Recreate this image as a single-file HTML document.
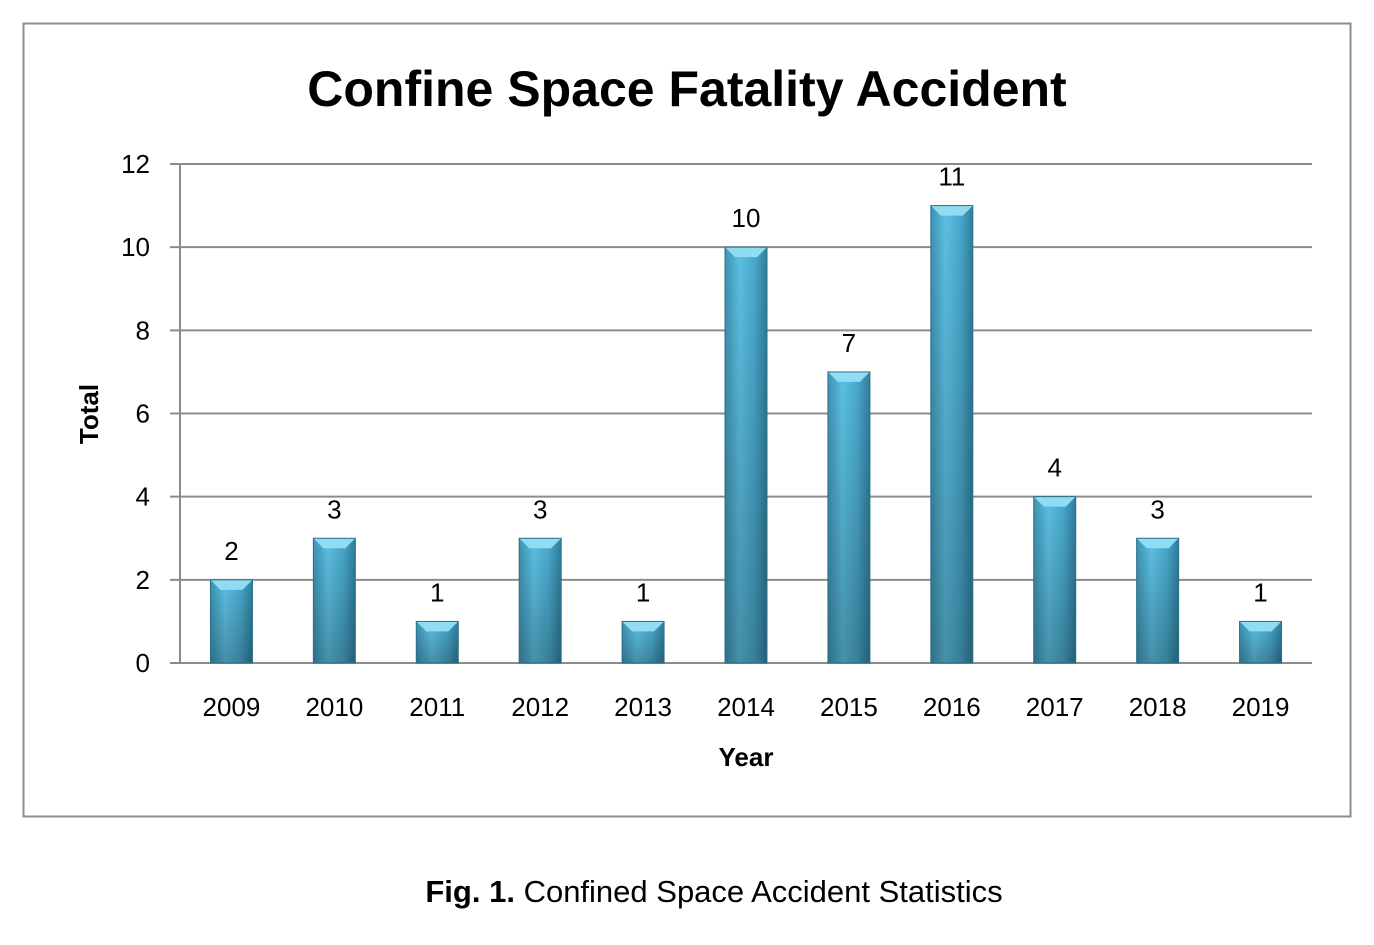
<!DOCTYPE html>
<html><head><meta charset="utf-8"><style>
body{margin:0;background:#fff;width:1374px;height:940px;overflow:hidden;font-family:"Liberation Sans",sans-serif}
</style></head><body>
<svg width="1374" height="940">
<defs>
<linearGradient id="bg" x1="0" x2="1" y1="0" y2="0">
<stop offset="0" stop-color="#3e93b3"/><stop offset="0.35" stop-color="#5cc0e2"/><stop offset="0.7" stop-color="#4aa9cc"/><stop offset="1" stop-color="#2f7e9c"/></linearGradient>
<linearGradient id="bot" x1="0" x2="0" y1="0" y2="1"><stop offset="0" stop-color="#000" stop-opacity="0"/><stop offset="1" stop-color="#000" stop-opacity="0.25"/></linearGradient>
</defs>
<rect x="23.5" y="23.5" width="1327" height="793" fill="#fff" stroke="#8c8c8c" stroke-width="2"/>
<text x="687" y="106" text-anchor="middle" font-size="50" font-weight="bold" fill="#000">Confine Space Fatality Accident</text>
<g id="grid"></g><g id="bars"></g>
<text transform="translate(98,414) rotate(-90)" text-anchor="middle" font-size="26" font-weight="bold">Total</text>
<text x="746" y="766" text-anchor="middle" font-size="26" font-weight="bold">Year</text>
<text x="714" y="902" text-anchor="middle" font-size="31"><tspan font-weight="bold">Fig. 1.</tspan> Confined Space Accident Statistics</text>
</svg>
<script>
const categories=["2009","2010","2011","2012","2013","2014","2015","2016","2017","2018","2019"];
const values=[2,3,1,3,1,10,7,11,4,3,1];
const yTicks=[0,2,4,6,8,10,12];
const NS="http://www.w3.org/2000/svg";
const x0=180,x1=1312,y0=663,yTop=164,yMax=12;
const bw=(x1-x0)/categories.length;
const y=v=>y0-(y0-yTop)*v/yMax;
const xc=i=>x0+bw*(i+0.5);
function mk(t,a,p){const e=document.createElementNS(NS,t);for(const k in a)e.setAttribute(k,a[k]);p.appendChild(e);return e;}
const g=document.getElementById('grid'),b=document.getElementById('bars');
yTicks.forEach(t=>{
 const l=mk('line',{x1:x0-10,x2:x1,y1:y(t),y2:y(t),stroke:'#8c8c8c','stroke-width':2},g);
 
 
 const tx=mk('text',{x:150,y:y(t)+9,'text-anchor':'end','font-size':26},g);tx.textContent=t;
 
 
});
const ax=mk('line',{x1:x0,x2:x0,y1:yTop,y2:y0,stroke:'#8c8c8c','stroke-width':2},g);


categories.forEach((c,i)=>{
 const cx=xc(i),w=42,top=y(values[i]),h=y0-top;
 const grp=mk('g',{},b);
 
 
 mk('rect',{x:cx-w/2,y:top,width:w,height:h,fill:'url(#bg)'},grp);
 mk('rect',{x:cx-w/2,y:top,width:w,height:h,fill:'url(#bot)'},grp);
 const bv=Math.min(10,h/2);
 mk('polygon',{points:`${cx-w/2},${top} ${cx+w/2},${top} ${cx+w/2-bv},${top+bv} ${cx-w/2+bv},${top+bv}`,fill:'#8fdcf3'},grp);
 mk('rect',{x:cx-w/2,y:top,width:w,height:h,fill:'none',stroke:'#2c6f88','stroke-width':1},grp);
 const lv=mk('text',{x:cx,y:top-20,'text-anchor':'middle','font-size':26},b);lv.textContent=values[i];
 
 
 const xl=mk('text',{x:cx,y:716,'text-anchor':'middle','font-size':26},b);xl.textContent=c;
 
 
});
</script>
</body></html>
